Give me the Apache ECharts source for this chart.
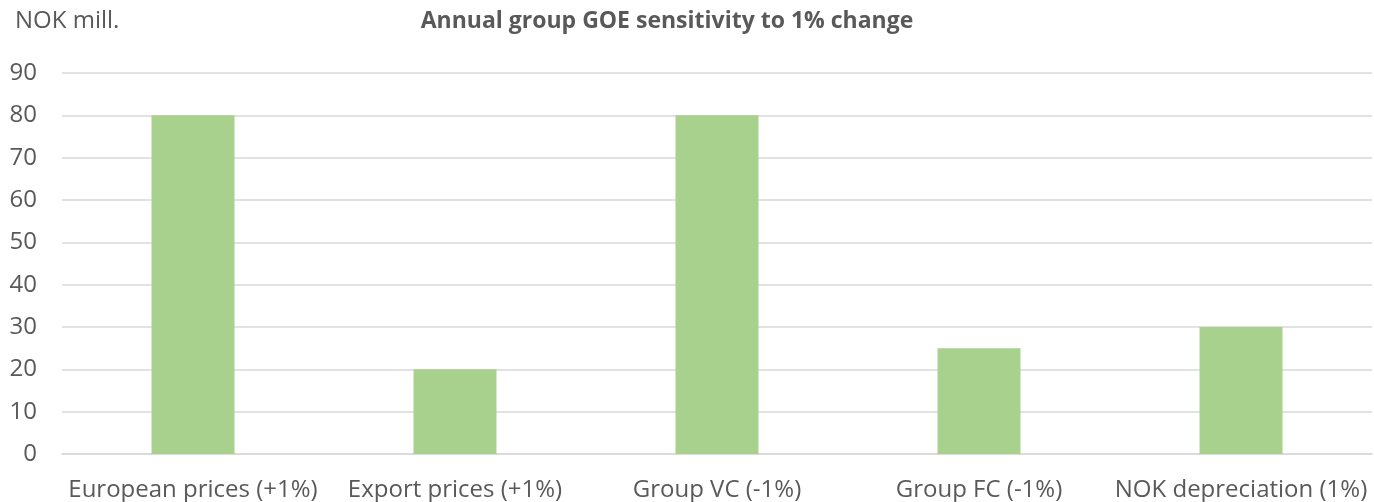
<!DOCTYPE html>
<html>
<head>
<meta charset="utf-8">
<script src="https://cdn.jsdelivr.net/npm/echarts@6/dist/echarts.min.js"></script>
<style>
  html, body { margin: 0; padding: 0; background: #fff; }
  #chart { width: 1374px; height: 502px; }
</style>
</head>
<body>
<div id="chart"></div>
<script>
const categories = [
  "European prices (+1%)",
  "Export prices (+1%)",
  "Group VC (-1%)",
  "Group FC (-1%)",
  "NOK depreciation (1%)",
];
const sensitivity = [80, 20, 80, 25, 30];
const yTicks = { min: 0, max: 90, interval: 10 };

const textColor = "#595959";
const font = '"Open Sans", "Noto Sans", sans-serif';

const chart = echarts.init(document.getElementById("chart"), null, { renderer: "canvas" });
chart.setOption({
  animation: false,
  backgroundColor: "#fff",
  textStyle: { fontFamily: font },
  title: [
    {
      text: "Annual group GOE sensitivity to 1% change",
      left: 662,
      top: 5,
      textAlign: "center",
      textStyle: { fontSize: 23, fontWeight: "bold", color: textColor, fontFamily: font },
    },
    {
      text: "NOK mill.",
      left: 10,
      top: 4,
      textStyle: { fontSize: 24, fontWeight: "normal", color: textColor, fontFamily: font },
    },
  ],
  grid: { left: 62, right: 2, top: 73, bottom: 48, containLabel: false },
  xAxis: {
    type: "category",
    data: categories,
    axisLine: { show: true, lineStyle: { color: "#D9D9D9", width: 1.5 } },
    axisTick: { show: false },
    axisLabel: { color: textColor, fontSize: 24, margin: 24, fontFamily: font, interval: 0 },
  },
  yAxis: {
    type: "value",
    min: yTicks.min,
    max: yTicks.max,
    interval: yTicks.interval,
    axisLine: { show: false },
    axisTick: { show: false },
    axisLabel: { color: textColor, fontSize: 24, margin: 25, fontFamily: font },
    splitLine: { lineStyle: { color: "#D9D9D9", width: 1.5 } },
  },
  series: [
    {
      type: "bar",
      data: sensitivity,
      barWidth: 83,
      itemStyle: { color: "#A9D18E" },
    },
  ],
});
</script>
</body>
</html>
